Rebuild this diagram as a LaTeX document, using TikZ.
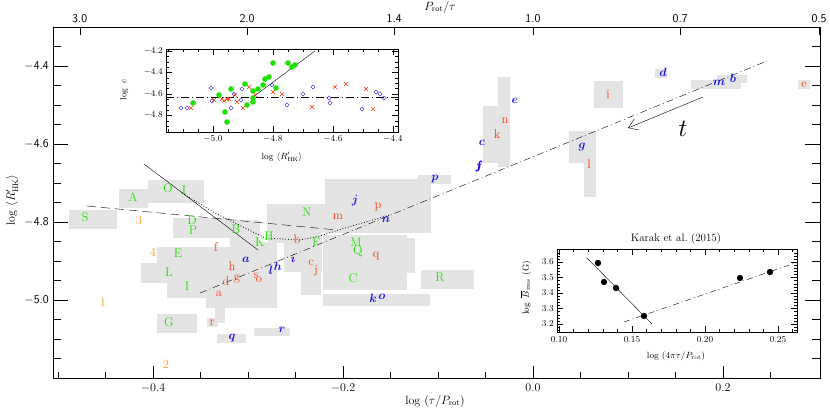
\documentclass[tikz,border=0pt]{standalone}
\usepackage{amsmath}
\usepackage{xcolor}
\usetikzlibrary{arrows.meta,shapes.geometric}
\definecolor{sgreen}{RGB}{30,225,0}
\definecolor{sred}{RGB}{255,55,10}
\definecolor{sorange}{RGB}{255,155,20}
\definecolor{sblue}{RGB}{30,20,225}
\definecolor{boxgray}{RGB}{228,228,228}

\begin{document}
\begin{tikzpicture}[x=1pt,y=-1pt,
            gbox/.style={fill=boxgray, draw=none},
            lab/.style={inner sep=0pt, font=\fontsize{12.5}{13}\selectfont},
            gl/.style={lab, text=sgreen},
            rl/.style={lab, text=sred},
            ol/.style={lab, text=sorange},
            bl/.style={lab, text=sblue, font=\fontsize{12.5}{13}\selectfont\bfseries},
            tlab/.style={font=\sffamily\fontsize{12}{13}\selectfont, inner sep=1pt},
            slab/.style={font=\fontsize{9}{10}\selectfont, inner sep=1pt}]
        \useasboundingbox (0,0) rectangle (830,415);
        % grey error boxes
        \foreach \a/\b/\c/\d in {69/210/117/229, 119/189/148/208, 148/180/204/203,
            173/218/230/238, 230/220/260/243, 157/247/230/263, 141/263/167/283,
            167/247/230/298, 206/283/277/308, 230/242/277/283, 215/307/225/323,
            207/318/218/327, 157/314/197/333, 217/334/246/343, 254/328/290/336,
            268/204/290/243, 267/204/325/232, 325/179/431/233, 418/175/451/184,
            284/232/322/272, 301/272/321/295, 323/235/407/290, 407/238/415/273,
            323/294/430/306, 421/270/474/289, 250/253/277/305,
            483/106/510/163, 498/77/510/167, 569/131/596/163, 584/131/596/197,
            594/81/623/108, 655/69/667/78, 691/80/741/89, 717/75/747/83, 798/80/810/89}
            \fill[gbox] (\a,\b) rectangle (\c,\d);
        % main frame and ticks
        \draw[thick] (53,27) rectangle (820,378);
        \foreach \v in {-5.15,-5.1,...,-4.34} {
            \draw (53,{222-(\v+4.8)*390}) -- ++(8,0);
            \draw (820,{222-(\v+4.8)*390}) -- ++(-8,0);
        }
        \foreach \v/\t in {-4.4/4.4,-4.6/4.6,-4.8/4.8,-5.0/5.0} {
            \draw (53,{222-(\v+4.8)*390}) -- ++(15,0);
            \draw (820,{222-(\v+4.8)*390}) -- ++(-15,0);
            \node[tlab, anchor=east] (yl\t) at (50,{222-(\v+4.8)*390}) {$-$\t};
        }
        \foreach \v in {-0.5,-0.45,...,0.26} \draw ({533+950*\v},378) -- ++(0,-6);
        \foreach \v in {-0.4,-0.2,0.0,0.2} {
            \draw ({533+950*\v},378) -- ++(0,-12);
            \node[tlab, anchor=north] (xl\v) at ({533+950*\v},383) {\pgfmathprintnumber[fixed,precision=1,fixed zerofill]{\v}};
        }
        \foreach \p in {3.0,2.0,1.4,1.0,0.7,0.5} {
            \draw ({533-950*log10(\p)},27) -- ++(0,8);
            \node[tlab, anchor=south] (tl\p) at ({533-950*log10(\p)},24) {\p};
        }
        \node[tlab] (toplab) at (440,7) {$P_{\mathrm{rot}}/\tau$};
        \node[tlab] (xlab) at (435,401) {$\log\ (\tau/P_{\mathrm{rot}})$};
        \node[tlab, rotate=90] (ylab) at (12,200) {$\log\ \langle R'_{\mathrm{HK}}\rangle$};
        % fits
        \draw[thin] (144,164) -- (258,250);
        \draw[dash pattern=on 9pt off 5pt] (87,206) -- (337,230);
        \draw[dotted, thick] (182,193) -- (215,213) -- (245,228) -- (265,238) -- (300,240)
            -- (320,236) -- (345,228) -- (390,215);
        \draw[dash pattern=on 7pt off 3pt on 1pt off 3pt] (200,293) -- (767,61);
        \coordinate (tstart) at (703,97);
        \coordinate (tend) at (628,128);
        \draw[-{Straight Barb[length=9pt,width=12pt]}] (tstart) -- (tend);
        \node[font=\fontsize{30}{30}\selectfont] (tlabel) at (683,129) {$t$};
        % star labels
        \foreach \x/\y/\t [count=\i] in {85/217/S, 133/197/A, 168/188/O, 184/190/I, 192/220/D,
            193/230/P, 236/229/B, 260/242/K, 269/236/H, 178/253/E, 169/272/L, 187/286/I,
            169/322/G, 307/212/N, 316/242/F, 356/242/M, 358/251/Q, 353/278/C, 440/277/R}
            \node[gl] (g\i) at (\x,\y) {\t};
        \foreach \x/\y/\t [count=\i] in {216/247/f, 232/266/h, 226/281/d, 237/279/g, 256/276/s,
            259/280/o, 219/294/a, 212/323/r, 338/217/m, 378/207/p, 297/239/b, 376/256/q,
            311/263/c, 316/271/j, 608/94/i, 505/121/n, 497/134/k, 589/164/l, 804/85/e}
            \node[rl] (r\i) at (\x,\y) {\t};
        \foreach \x/\y/\t [count=\i] in {139/220/3, 153/252/4, 103/302/1, 166/364/2}
            \node[ol] (o\i) at (\x,\y) {\t};
        \foreach \x/\y/\t [count=\i] in {246/260/a, 271/270/l, 278/266/h, 232/338/q, 282/330/r,
            355/201/j, 386/220/n, 293/258/i, 373/298/k, 382/297/o, 435/179/p, 479/167/j,
            663/72/d, 719/83/m, 733/78/b, 515/101/e, 482/143/c, 479/166/f, 582/147/g}
            \node[bl] (b\i) at (\x,\y) {$\boldsymbol{\t}$};
        % inset: log c
        \fill[white] (166,49) rectangle (398,132);
        \draw (166,49) rectangle (398,132);
        \foreach \v in {-5.15,-5.1,...,-4.39} {
            \draw ({213+(\v+5)*300},132) -- ++(0,-3);
            \draw ({213+(\v+5)*300},49) -- ++(0,3);
        }
        \foreach \v in {-5.0,-4.8,-4.6,-4.4} {
            \draw ({213+(\v+5)*300},132) -- ++(0,-6);
            \draw ({213+(\v+5)*300},49) -- ++(0,6);
            \node[slab, anchor=north] (ix\v) at ({213+(\v+5)*300},134) {$\pgfmathprintnumber[fixed,precision=1,fixed zerofill]{\v}$};
        }
        \foreach \v in {-4.9,-4.85,...,-4.16} {
            \draw (166,{94-(\v+4.6)*107.5}) -- ++(3,0);
            \draw (398,{94-(\v+4.6)*107.5}) -- ++(-3,0);
        }
        \foreach \v in {-4.2,-4.4,-4.6,-4.8} {
            \draw (166,{94-(\v+4.6)*107.5}) -- ++(6,0);
            \draw (398,{94-(\v+4.6)*107.5}) -- ++(-6,0);
            \node[slab, anchor=east] (iy\v) at (164,{94-(\v+4.6)*107.5}) {$\pgfmathprintnumber[fixed,precision=1,fixed zerofill]{\v}$};
        }
        \node[slab] (ixlab) at (282,157) {$\log\ \langle R'_{\mathrm{HK}}\rangle$};
        \node[slab, rotate=90] (iylab) at (124,90) {$\log\ c$};
        \draw[dash pattern=on 8pt off 3pt on 1pt off 3pt] (166,97.5) -- (398,97.5);
        \draw (253,97) -- (315,51);
        \foreach \x/\y in {181/108,187/108,211/88,212/101,231/108,234/94,241/100,242/89,272/85,
            287/105,303/94,313/87,329/98,330/103,362/109,376/92,380/94,384/98}
            \node[draw=sblue, diamond, minimum size=4.5pt, inner sep=0pt, shape aspect=1] at (\x,\y) {};
        \foreach \x/\y in {191/108,214/100,222/99,224/101,227/99,229/99,235/95,237/102,243/108,
            249/87,255/95,273/92,282/94,312/107,335/87,346/84,366/89,373/109}
            \draw[sred] (\x-2,\y-2) -- (\x+2,\y+2) (\x-2,\y+2) -- (\x+2,\y-2);
        \foreach \x/\y in {193/103,219/95,231/89,225/112,227/122,247/105,245/84,253/91,253/98,
            253/102,258/89,263/85,265/79,269/77,273/63,288/63,292/67,295/65,276/88}
            \fill[sgreen] (\x,\y) circle (2.8);
        % inset: Karak et al.
        \fill[white] (557,249) rectangle (797,332);
        \draw (557,249) rectangle (797,332);
        \foreach \v in {0.1,0.11,...,0.26} {
            \draw ({559+(\v-0.1)*1460},332) -- ++(0,-3);
            \draw ({559+(\v-0.1)*1460},249) -- ++(0,3);
        }
        \foreach \v in {0.10,0.15,0.20,0.25} {
            \draw ({559+(\v-0.1)*1460},332) -- ++(0,-6);
            \draw ({559+(\v-0.1)*1460},249) -- ++(0,6);
            \node[slab, anchor=north] (kx\v) at ({559+(\v-0.1)*1460},335) {\pgfmathprintnumber[fixed,precision=2,fixed zerofill]{\v}};
        }
        \foreach \v in {3.16,3.18,...,3.67} {
            \draw (557,{262-(\v-3.6)*155}) -- ++(3,0);
            \draw (797,{262-(\v-3.6)*155}) -- ++(-3,0);
        }
        \foreach \v in {3.2,3.3,3.4,3.5,3.6} {
            \draw (557,{262-(\v-3.6)*155}) -- ++(6,0);
            \draw (797,{262-(\v-3.6)*155}) -- ++(-6,0);
            \node[slab, anchor=east] (ky\v) at (555,{262-(\v-3.6)*155}) {\pgfmathprintnumber[fixed,precision=1,fixed zerofill]{\v}};
        }
        \node[font=\fontsize{11}{12}\selectfont] (ktitle) at (676,239) {Karak et al.\ (2015)};
        \node[slab] (kxlab) at (676,356) {$\log\ (4\pi\tau/P_{\mathrm{rot}})$};
        \node[slab, rotate=90] (kylab) at (526,288) {$\log\ \overline{B}_{\mathrm{rms}}$ (G)};
        \draw (587,258) -- (652,324);
        \draw[dash pattern=on 6pt off 3pt on 1pt off 3pt] (624,322) -- (798,262);
        \foreach \x/\y in {598/263,604/282,616/288,644/316,740/278,770/272}
            \fill (\x,\y) circle (3.2);
    \end{tikzpicture}
\end{document}
